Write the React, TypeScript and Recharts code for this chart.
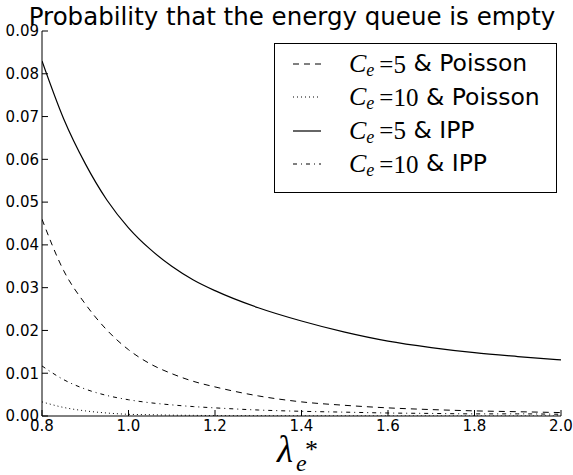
import { Legend, Line, LineChart, XAxis, YAxis } from "recharts";

// arrival rate λ_e* (x axis)
const LAMBDA = [0.8, 0.85, 0.9, 0.95, 1.0, 1.05, 1.1, 1.15, 1.2, 1.3, 1.4, 1.5, 1.6, 1.7, 1.8, 1.9, 2.0];

// P(energy queue empty)
const C5_POISSON = [0.046, 0.034, 0.0262, 0.0201, 0.0155, 0.0122, 0.0099, 0.0081, 0.0068, 0.0047, 0.0033, 0.0025, 0.0019, 0.0015, 0.0012, 0.001, 0.0008];
const C10_POISSON = [0.0033, 0.002, 0.0012, 0.0007, 0.0004, 0.0003, 0.0002, 0.00015, 0.0001, 0.00006, 0.00004, 0.00003, 0.00002, 0.00002, 0.00001, 0.00001, 0.00001];
const C5_IPP = [0.083, 0.0695, 0.059, 0.0505, 0.044, 0.039, 0.035, 0.0318, 0.0293, 0.0253, 0.0222, 0.0196, 0.0175, 0.016, 0.0148, 0.0139, 0.0131];
const C10_IPP = [0.0117, 0.0085, 0.0063, 0.0048, 0.0038, 0.0031, 0.0026, 0.0022, 0.0019, 0.0014, 0.0011, 0.0009, 0.0007, 0.0006, 0.0005, 0.0005, 0.0004];

const X_TICKS = [0.8, 1.0, 1.2, 1.4, 1.6, 1.8, 2.0];
const Y_TICKS = [0, 0.01, 0.02, 0.03, 0.04, 0.05, 0.06, 0.07, 0.08, 0.09];

const data = LAMBDA.map((x, i) => ({
  x,
  c5p: C5_POISSON[i],
  c10p: C10_POISSON[i],
  c5i: C5_IPP[i],
  c10i: C10_IPP[i],
}));

const SERIES = [
  { key: "c5p", c: "5", arrival: "Poisson", dash: "6 5", width: 1 },
  { key: "c10p", c: "10", arrival: "Poisson", dash: "1 3", width: 1 },
  { key: "c5i", c: "5", arrival: "IPP", dash: undefined, width: 1.2 },
  { key: "c10i", c: "10", arrival: "IPP", dash: "4 4 1 4", width: 1 },
];

const SANS = "'DejaVu Sans', sans-serif";
const SERIF = "'Liberation Serif', serif";
const TICK = { fill: "#000", fontSize: 15, fontFamily: SANS };

function LegendBox() {
  return (
    <div style={{ width: 281, height: 144.5, border: "1px solid #000", background: "#fff", paddingTop: 3.5 }}>
      {SERIES.map((s) => (
        <div key={s.key} style={{ height: 33.3, display: "flex", alignItems: "center", lineHeight: 1, whiteSpace: "nowrap" }}>
          <svg width={74} height={10} style={{ flex: "none" }}>
            <line x1={18} x2={46} y1={5} y2={5} stroke="#000" strokeWidth={s.width} strokeDasharray={s.dash} />
          </svg>
          <span style={{ fontFamily: SERIF, fontStyle: "italic", fontSize: 26 }}>C</span>
          <span style={{ fontFamily: SERIF, fontStyle: "italic", fontSize: 18, position: "relative", top: 6 }}>e</span>
          <span style={{ fontFamily: SERIF, fontSize: 25, marginLeft: 5 }}>={s.c}</span>
          <span style={{ fontFamily: SANS, fontSize: 23.5, whiteSpace: "pre" }}> &amp; {s.arrival}</span>
        </div>
      ))}
    </div>
  );
}

export default function App() {
  return (
    <div style={{ position: "absolute", left: 0, top: 0, width: 573, height: 475, background: "#fff" }}>
      <LineChart width={573} height={475} data={data} margin={{ top: 31, right: 12, left: 0, bottom: 0 }}>
        <XAxis
          dataKey="x"
          type="number"
          domain={[0.8, 2.0]}
          ticks={X_TICKS}
          tickFormatter={(v: number) => v.toFixed(1)}
          height={59}
          stroke="#000"
          tick={TICK}
          tickSize={-6}
          tickMargin={10}
          allowDataOverflow
        />
        <XAxis
          xAxisId="top"
          orientation="top"
          dataKey="x"
          type="number"
          domain={[0.8, 2.0]}
          ticks={X_TICKS}
          tickFormatter={() => ""}
          height={0}
          stroke="#000"
          tickSize={-6}
          allowDataOverflow
        />
        <YAxis
          type="number"
          domain={[0, 0.09]}
          ticks={Y_TICKS}
          tickFormatter={(v: number) => v.toFixed(2)}
          width={42}
          stroke="#000"
          tick={TICK}
          tickSize={-6}
          tickMargin={9}
          allowDataOverflow
        />
        <YAxis
          yAxisId="right"
          orientation="right"
          type="number"
          domain={[0, 0.09]}
          ticks={Y_TICKS}
          tickFormatter={() => ""}
          width={0}
          stroke="#000"
          tickSize={-6}
          allowDataOverflow
        />
        <Legend
          layout="vertical"
          align="center"
          verticalAlign="middle"
          content={() => <LegendBox />}
          wrapperStyle={{ left: 274, top: 43, width: 283, height: 150 }}
        />
        {SERIES.map((s) => (
          <Line
            key={s.key}
            dataKey={s.key}
            type="monotone"
            stroke="#000"
            strokeWidth={s.width}
            strokeDasharray={s.dash}
            dot={false}
            isAnimationActive={false}
          />
        ))}
      </LineChart>

      <svg width={573} height={475} style={{ position: "absolute", left: 0, top: 0, pointerEvents: "none" }}>
        <text x={292} y={25} textAnchor="middle" fontFamily={SANS} fontSize={24.5} fill="#000">
          Probability that the energy queue is empty
        </text>
        <text x={277} y={462} fontFamily={SERIF} fontStyle="italic" fontSize={37} fill="#000">λ</text>
        <text x={296} y={471} fontFamily={SERIF} fontStyle="italic" fontSize={24} fill="#000">e</text>
        <text x={305} y={458} fontFamily={SERIF} fontSize={26} fill="#000">*</text>
      </svg>
    </div>
  );
}
